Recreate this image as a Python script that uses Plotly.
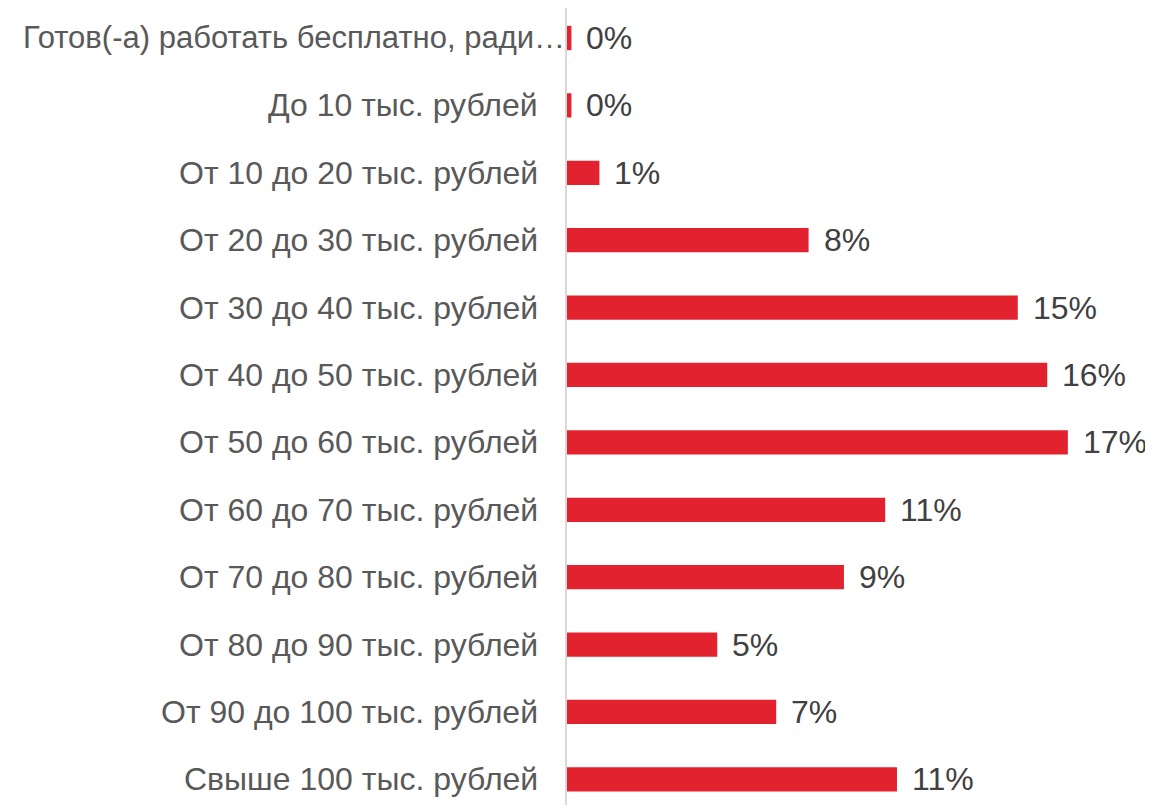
import plotly.graph_objects as go

categories = [
    'Готов(-а) работать бесплатно, ради…',
    'До 10 тыс. рублей',
    'От 10 до 20 тыс. рублей',
    'От 20 до 30 тыс. рублей',
    'От 30 до 40 тыс. рублей',
    'От 40 до 50 тыс. рублей',
    'От 50 до 60 тыс. рублей',
    'От 60 до 70 тыс. рублей',
    'От 70 до 80 тыс. рублей',
    'От 80 до 90 тыс. рублей',
    'От 90 до 100 тыс. рублей',
    'Свыше 100 тыс. рублей',
]
values = [0.15, 0.15, 1.1, 8.2, 15.3, 16.3, 17.0, 10.8, 9.4, 5.1, 7.1, 11.2]
labels = [f"{round(v)}%" for v in values]

fig = go.Figure(go.Bar(
    x=values, y=categories, orientation='h',
    marker=dict(color='#E32230', line=dict(width=0)),
    width=0.36,
    hoverinfo='skip',
))

# подписи категорий слева (первая обрезана и заходит на ось, как в оригинале)
for i, cat in enumerate(categories):
    fig.add_annotation(x=0, xref='paper', y=cat, text=cat, showarrow=False,
                       xanchor='right', xshift=0 if i == 0 else -27,
                       font=dict(size=31 if i == 0 else 32, color='#595959'))

# подписи значений справа от столбцов
for cat, v, t in zip(categories, values, labels):
    fig.add_annotation(x=v, y=cat, text=t, showarrow=False,
                       xanchor='left', xshift=13,
                       font=dict(size=32, color='#404040'))

fig.update_layout(
    width=1140, height=797,
    paper_bgcolor='white', plot_bgcolor='white',
    font=dict(family='Liberation Sans, Arial, sans-serif', size=32, color='#595959'),
    margin=dict(t=0, b=0, l=559, r=0, autoexpand=False),
    showlegend=False,
    xaxis=dict(range=[0, 19.72], visible=False, automargin=False),
    yaxis=dict(
        categoryorder='array', categoryarray=categories,
        range=[11.38, -0.445], automargin=False,
        showline=True, linecolor='#d9d9d9', linewidth=1.5,
        showgrid=False, ticks='', showticklabels=False,
    ),
)

fig.write_html("out.html")
